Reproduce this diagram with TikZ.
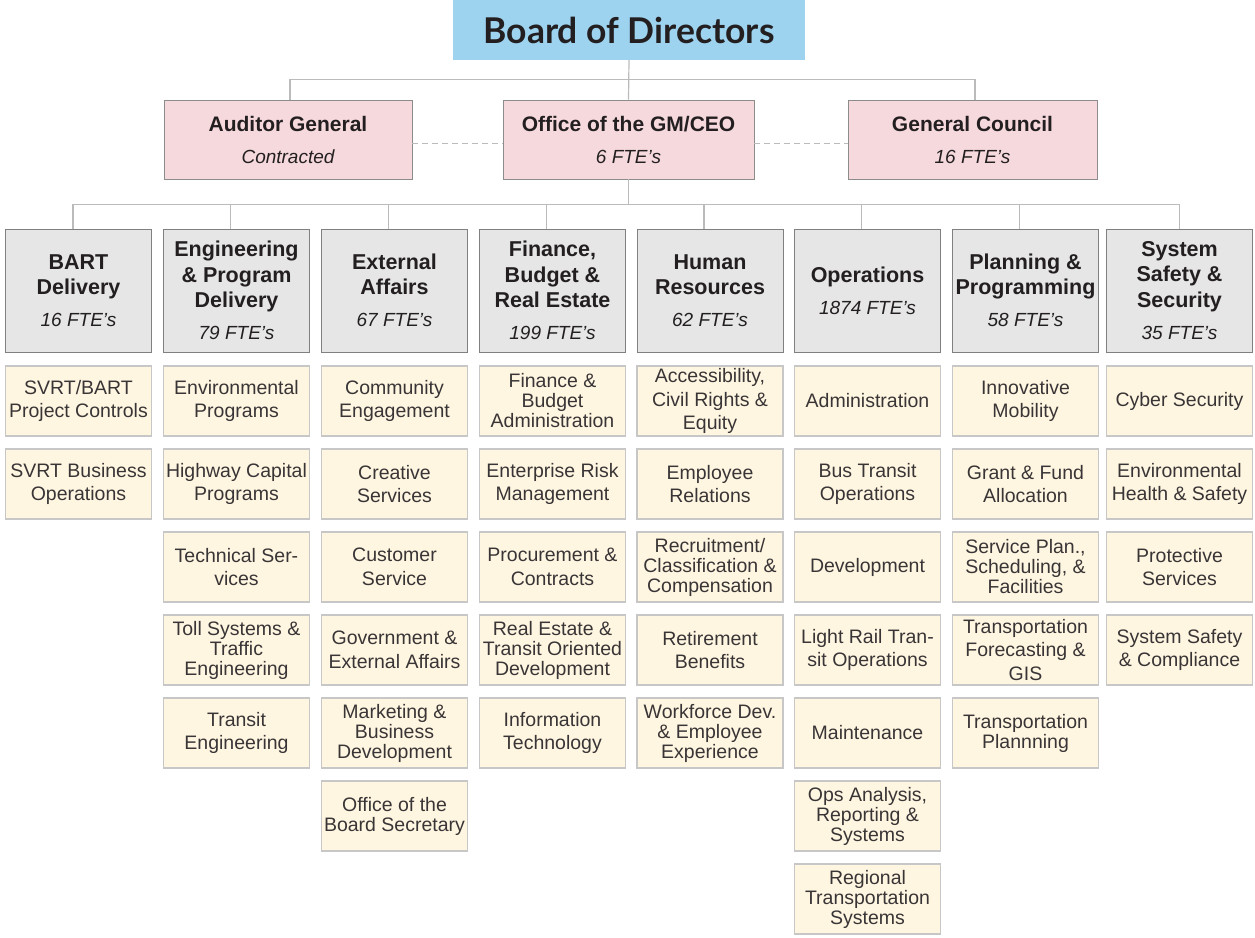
\documentclass[tikz,border=0pt]{standalone}
\usepackage{fontspec}
\setmainfont{Liberation Sans}
\newfontfamily\latofont{Lato}
\definecolor{boardblue}{HTML}{9ED3F0}
\definecolor{toppink}{HTML}{F6D9DD}
\definecolor{deptgray}{HTML}{E6E6E6}
\definecolor{subcream}{HTML}{FFF6E1}
\definecolor{linegray}{HTML}{BBBBBB}
\definecolor{txt}{HTML}{231F20}
\newcommand{\fte}[1]{{\normalfont\itshape\fontsize{19}{25.5}\selectfont #1}}
\tikzset{
  boardbox/.style={fill=boardblue, draw=none, minimum width=352pt, minimum height=60pt, inner sep=0pt,
    font=\latofont\bfseries\fontsize{35.5}{38}\selectfont, text=txt},
  topbox/.style={fill=toppink, draw=black!45, line width=0.9pt, minimum height=79pt, inner sep=0pt,
    align=center, font=\fontsize{21}{25.5}\selectfont\bfseries, text=txt},
  deptbox/.style={fill=deptgray, draw=black!50, line width=1pt, minimum width=146pt, minimum height=123pt,
    inner sep=0pt, align=center, font=\fontsize{21.5}{25.5}\selectfont\bfseries, text=txt},
  subbox/.style={fill=subcream, draw=black!22, line width=1.2pt, minimum width=146pt, minimum height=70pt,
    inner sep=0pt, align=center, font=\fontsize{19.5}{23.5}\selectfont, text=txt!90},
  tri/.style={font=\fontsize{19.5}{20}\selectfont},
  conn/.style={draw=linegray, line width=1.2pt},
  dashconn/.style={draw=linegray, line width=1.2pt, dash pattern=on 6pt off 4pt},
}
\begin{document}
\begin{tikzpicture}[x=1pt, y=-1pt]
\useasboundingbox (0,0) rectangle (1255,937);

% Board
\node[boardbox] (board) at (629,30) {Board of Directors};

% Top row
\node[topbox, minimum width=248pt] (aud) at (288,139.5) {Auditor General\\[6.5pt]\fte{Contracted}};
\node[topbox, minimum width=251pt] (gm) at (628.5,139.5) {Office of the GM/CEO\\[6.5pt]\fte{6 FTE's}};
\node[topbox, minimum width=249pt] (gc) at (972.5,139.5) {General Council\\[6.5pt]\fte{16 FTE's}};

\draw[conn] (board.south) -- (gm.north);
\draw[conn] ([xshift=2pt]aud.north) -- ++(0,-20) -| ([xshift=2.5pt]gc.north);
\draw[dashconn] ([yshift=-4pt]aud.east) -- ([yshift=-4pt]gm.west);
\draw[dashconn] ([yshift=-4pt]gm.east) -- ([yshift=-4pt]gc.west);

% Departments
\node[deptbox] (d1) at (78.5,290.5) {BART\\Delivery\\[6.5pt]\fte{16 FTE's}};
\node[deptbox] (d2) at (236.5,290.5) {Engineering\\\& Program\\Delivery\\[6.5pt]\fte{79 FTE's}};
\node[deptbox] (d3) at (394.5,290.5) {External\\Affairs\\[6.5pt]\fte{67 FTE's}};
\node[deptbox] (d4) at (552.5,290.5) {Finance,\\Budget \&\\Real Estate\\[6.5pt]\fte{199 FTE's}};
\node[deptbox] (d5) at (710,290.5) {Human\\Resources\\[6.5pt]\fte{62 FTE's}};
\node[deptbox] (d6) at (867.5,290.5) {Operations\\[6.5pt]\fte{1874 FTE's}};
\node[deptbox] (d7) at (1025.5,290.5) {Planning \&\\Programming\\[6.5pt]\fte{58 FTE's}};
\node[deptbox] (d8) at (1179.5,290.5) {System\\Safety \&\\Security\\[6.5pt]\fte{35 FTE's}};

\draw[conn] (gm.south) -- ++(0,26);
\draw[conn] ([xshift=-5.5pt]d1.north) -- ++(0,-24) -| (d8.north);
\foreach \d in {d2,d3,d4,d5,d6,d7}{\draw[conn] ([xshift=-6pt]\d.north) -- ++(0,-24);}

% Column 1
\node[subbox] (s11) at (78.5,401) {SVRT/BART\\Project Controls};
\node[subbox] (s12) at (78.5,484) {SVRT Business\\Operations};
% Column 2
\node[subbox] (s21) at (236.5,401) {Environmental\\Programs};
\node[subbox] (s22) at (236.5,484) {Highway Capital\\Programs};
\node[subbox] (s23) at (236.5,567) {Technical Ser-\\vices};
\node[subbox,tri] (s24) at (236.5,650) {Toll Systems \&\\Traffic\\Engineering};
\node[subbox] (s25) at (236.5,733) {Transit\\Engineering};
% Column 3
\node[subbox] (s31) at (394.5,401) {Community\\Engagement};
\node[subbox] (s32) at (394.5,484) {Creative\\Services};
\node[subbox] (s33) at (394.5,567) {Customer\\Service};
\node[subbox] (s34) at (394.5,650) {Government \&\\External Affairs};
\node[subbox,tri] (s35) at (394.5,733) {Marketing \&\\Business\\Development};
\node[subbox,tri] (s36) at (394.5,816) {Office of the\\Board Secretary};
% Column 4
\node[subbox,tri] (s41) at (552.5,401) {Finance \&\\Budget\\Administration};
\node[subbox] (s42) at (552.5,484) {Enterprise Risk\\Management};
\node[subbox] (s43) at (552.5,567) {Procurement \&\\Contracts};
\node[subbox,tri] (s44) at (552.5,650) {Real Estate \&\\Transit Oriented\\Development};
\node[subbox] (s45) at (552.5,733) {Information\\Technology};
% Column 5
\node[subbox] (s51) at (710,401) {Accessibility,\\Civil Rights \&\\Equity};
\node[subbox] (s52) at (710,484) {Employee\\Relations};
\node[subbox,tri] (s53) at (710,567) {Recruitment/\\Classification \&\\Compensation};
\node[subbox] (s54) at (710,650) {Retirement\\Benefits};
\node[subbox,tri] (s55) at (710,733) {Workforce Dev.\\\& Employee\\Experience};
% Column 6
\node[subbox] (s61) at (867.5,401) {Administration};
\node[subbox] (s62) at (867.5,484) {Bus Transit\\Operations};
\node[subbox] (s63) at (867.5,567) {Development};
\node[subbox] (s64) at (867.5,650) {Light Rail Tran-\\sit Operations};
\node[subbox] (s65) at (867.5,733) {Maintenance};
\node[subbox,tri] (s66) at (867.5,816) {Ops Analysis,\\Reporting \&\\Systems};
\node[subbox,tri] (s67) at (867.5,899) {Regional\\Transportation\\Systems};
% Column 7
\node[subbox] (s71) at (1025.5,401) {Innovative\\Mobility};
\node[subbox] (s72) at (1025.5,484) {Grant \& Fund\\Allocation};
\node[subbox,tri] (s73) at (1025.5,567) {Service Plan.,\\Scheduling, \&\\Facilities};
\node[subbox] (s74) at (1025.5,650) {Transportation\\Forecasting \&\\GIS};
\node[subbox,tri] (s75) at (1025.5,733) {Transportation\\Plannning};
% Column 8
\node[subbox] (s81) at (1179.5,401) {Cyber Security};
\node[subbox] (s82) at (1179.5,484) {Environmental\\Health \& Safety};
\node[subbox] (s83) at (1179.5,567) {Protective\\Services};
\node[subbox] (s84) at (1179.5,650) {System Safety\\\& Compliance};
\end{tikzpicture}
\end{document}
